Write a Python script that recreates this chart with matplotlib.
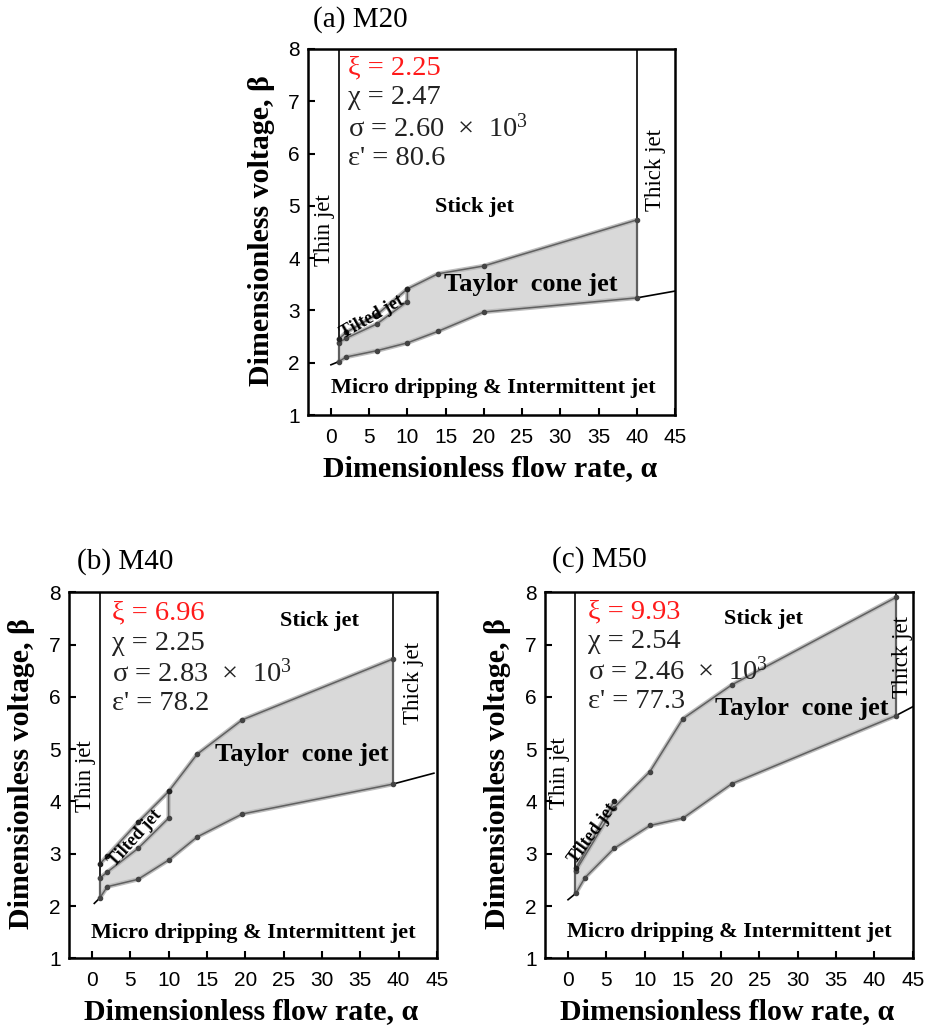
import matplotlib
matplotlib.use("Agg")
import matplotlib.pyplot as plt
import numpy as np

plt.rcParams['font.family'] = ['Liberation Serif', 'DejaVu Serif']
plt.rcParams['mathtext.fontset'] = 'custom'
plt.rcParams['mathtext.rm'] = 'Liberation Serif'
plt.rcParams['mathtext.it'] = 'Liberation Serif:italic'

# ---------------- data ----------------
x_ticks = [0, 5, 10, 15, 20, 25, 30, 35, 40, 45]
y_ticks = [1, 2, 3, 4, 5, 6, 7, 8]

# (a) M20
alpha_lower_a = [1, 2, 6, 10, 14, 20, 40]
beta_lower_a = [2.02, 2.11, 2.23, 2.38, 2.60, 2.97, 3.24]
alpha_upper_a = [1, 2, 6, 10, 10, 14, 20, 40]
beta_upper_a = [2.38, 2.47, 2.74, 3.17, 3.41, 3.70, 3.85, 4.73]
alpha_tilted_a = [1, 2, 6, 10]
beta_tilted_a = [2.45, 2.58, 2.92, 3.41]
alpha_left_ext_a = [0, 1]
beta_left_ext_a = [1.96, 2.02]
alpha_right_ext_a = [40, 45]
beta_right_ext_a = [3.24, 3.37]
thin_a, thick_a = 1, 40

# (b) M40
alpha_lower_b = [1, 2, 6, 10, 13.7, 19.6, 39.2]
beta_lower_b = [2.15, 2.37, 2.51, 2.88, 3.32, 3.76, 4.33]
alpha_upper_b = [1, 2, 6, 10, 10, 13.7, 19.6, 39.2]
beta_upper_b = [2.53, 2.65, 3.10, 3.68, 4.19, 4.90, 5.56, 6.72]
alpha_tilted_b = [1, 2, 6, 10]
beta_tilted_b = [2.80, 2.96, 3.60, 4.19]
alpha_left_ext_b = [0.3, 1]
beta_left_ext_b = [2.05, 2.15]
alpha_right_ext_b = [39.2, 44.6]
beta_right_ext_b = [4.33, 4.54]
thin_b, thick_b = 1, 39.2

# (c) M50
alpha_lower_c = [1, 2.2, 6, 10.7, 15, 21.4, 42.8]
beta_lower_c = [2.24, 2.54, 3.10, 3.54, 3.68, 4.34, 5.64]
alpha_upper_c = [1, 6, 10.7, 15, 21.4, 42.8]
beta_upper_c = [2.67, 3.88, 4.57, 5.58, 6.23, 7.90]
alpha_tilted_c = [1, 6]
beta_tilted_c = [2.72, 4.00]
alpha_left_ext_c = [0, 1]
beta_left_ext_c = [2.12, 2.24]
alpha_right_ext_c = [42.8, 45]
beta_right_ext_c = [5.64, 5.81]
thin_c, thick_c = 0.9, 42.8

titles = ["(a) M20", "(b) M40", "(c) M50"]
xi_vals = ["2.25", "6.96", "9.93"]
chi_vals = ["2.47", "2.25", "2.54"]
sigma_vals = ["2.60", "2.83", "2.46"]
eps_vals = ["80.6", "78.2", "77.3"]

# ---------------- figure ----------------
fig = plt.figure(figsize=(9.26, 10.27), dpi=100)
ax_a = fig.add_axes([0.3326, 0.5959, 0.3963, 0.3564])
ax_b = fig.add_axes([0.0745, 0.0669, 0.3974, 0.3564])
ax_c = fig.add_axes([0.5886, 0.0669, 0.3970, 0.3564])

FILL = '#d9d9d9'
EDGE = '#606060'
HALO = '#bdbdbd'


def draw_panel(ax, al, bl, au, bu, at, bt, ale, ble, are, bre, thin, thick):
    # shaded Taylor cone region
    poly_x = list(al) + list(au)[::-1]
    poly_y = list(bl) + list(bu)[::-1]
    ax.fill(poly_x, poly_y, color=FILL, zorder=1, lw=0)
    # halo + edges
    for xs, ys in [(al, bl), (au, bu), (at, bt)]:
        ax.plot(xs, ys, color=HALO, lw=3.2, zorder=2, solid_capstyle='round')
    ax.plot(al, bl, color=EDGE, lw=1.1, zorder=3)
    ax.plot(au, bu, color=EDGE, lw=1.1, zorder=3)
    ax.plot(at, bt, color=EDGE, lw=1.1, zorder=3)
    ax.plot([thick, thick], [bl[-1], bu[-1]], color=EDGE, lw=1.6, zorder=3)
    ax.plot([thin, thin], [bl[0], bu[0]], color=EDGE, lw=1.6, zorder=3)
    # markers
    ax.plot(al, bl, 'o', color='#444444', ms=3, zorder=4)
    ax.plot(au, bu, 'o', color='#444444', ms=3, zorder=4)
    ax.plot(at, bt, 'o', color='#222222', ms=3, zorder=4)
    # black boundary lines
    ax.plot([thin, thin], [bu[0], 8], color='black', lw=1.2, zorder=3)
    ax.plot([thick, thick], [bu[-1], 8], color='black', lw=1.2, zorder=3)
    ax.plot(ale, ble, color='black', lw=1.2, zorder=3)
    ax.plot(are, bre, color='black', lw=1.2, zorder=3)

    ax.set_xlim(-3, 45)
    ax.set_ylim(1, 8)
    ax.set_xticks(x_ticks)
    ax.set_yticks(y_ticks)
    for lab in ax.get_xticklabels() + ax.get_yticklabels():
        lab.set_fontfamily('Liberation Sans')
        lab.set_fontsize(15)
    ax.tick_params(direction='in', length=5, width=1.5, top=False, right=False)
    ax.tick_params(axis='x', pad=9)
    ax.tick_params(axis='y', pad=6)
    for sp in ax.spines.values():
        sp.set_linewidth(1.8)
    ax.text(-0.128, 0.505, 'Dimensionless voltage, β', transform=ax.transAxes,
            rotation=90, ha='center', va='center', fontsize=21.5, fontweight='bold')
    ax.text(0.496, -0.145, 'Dimensionless flow rate, α', transform=ax.transAxes,
            ha='center', va='center', fontsize=21.5, fontweight='bold')


draw_panel(ax_a, alpha_lower_a, beta_lower_a, alpha_upper_a, beta_upper_a,
           alpha_tilted_a, beta_tilted_a, alpha_left_ext_a, beta_left_ext_a,
           alpha_right_ext_a, beta_right_ext_a, thin_a, thick_a)
draw_panel(ax_b, alpha_lower_b, beta_lower_b, alpha_upper_b, beta_upper_b,
           alpha_tilted_b, beta_tilted_b, alpha_left_ext_b, beta_left_ext_b,
           alpha_right_ext_b, beta_right_ext_b, thin_b, thick_b)
draw_panel(ax_c, alpha_lower_c, beta_lower_c, alpha_upper_c, beta_upper_c,
           alpha_tilted_c, beta_tilted_c, alpha_left_ext_c, beta_left_ext_c,
           alpha_right_ext_c, beta_right_ext_c, thin_c, thick_c)

# text annotations per panel
panel_text = [
    # ax, info_x, info_y0, stick, taylor, micro, thin, thick, tilted(x,y,rot)
    (ax_a, 2.2, 7.64, (18.8, 4.98), (26.2, 3.49), (21.2, 1.51), (-0.9, 4.54), (42.4, 5.69), (5.4, 2.88, 30)),
    (ax_b, 2.6, 7.60, (29.7, 7.46), (27.4, 4.89), (21.1, 1.48), (-0.9, 4.48), (41.9, 6.26), (5.6, 3.30, 48)),
    (ax_c, 2.6, 7.63, (25.5, 7.48), (30.5, 5.78), (21.1, 1.51), (-1.1, 4.54), (43.7, 6.77), (3.2, 3.38, 54)),
]
for i, (ax, ix, iy, st, tc, mi, th, tk, tl) in enumerate(panel_text):
    dy = 0.575
    ax.text(ix, iy, 'ξ = ' + xi_vals[i], color='#ff1a1a', fontsize=20.5, va='center', ha='left', zorder=6)
    ax.text(ix, iy - dy, 'χ = ' + chi_vals[i], color='#222222', fontsize=20.5, va='center', ha='left', zorder=6)
    ax.text(ix, iy - 2 * dy, 'σ = ' + sigma_vals[i] + r'  $\times$  10$^{3}$', color='#222222',
            fontsize=20.5, va='center', ha='left', zorder=6)
    ax.text(ix, iy - 3 * dy, "ε' = " + eps_vals[i], color='#222222', fontsize=20.5, va='center', ha='left', zorder=6)
    ax.text(st[0], st[1], 'Stick jet', fontsize=16, fontweight='bold', ha='center', va='center', zorder=6)
    ax.text(tc[0], tc[1], 'Taylor  cone jet', fontsize=19, fontweight='bold', ha='center', va='center', zorder=6)
    ax.text(mi[0], mi[1], 'Micro dripping & Intermittent jet', fontsize=16, fontweight='bold',
            ha='center', va='center', zorder=6)
    ax.text(th[0], th[1], 'Thin jet', fontsize=16.5, rotation=90, ha='center', va='center', zorder=6)
    ax.text(tk[0], tk[1], 'Thick jet', fontsize=16.5, rotation=90, ha='center', va='center', zorder=6)
    ax.text(tl[0], tl[1], 'Tilted jet', fontsize=13, fontweight='bold', rotation=tl[2],
            ha='center', va='center', zorder=6, rotation_mode='anchor')

fig.text(0.338, 0.9805, titles[0], fontsize=21, ha='left', va='center')
fig.text(0.083, 0.453, titles[1], fontsize=21, ha='left', va='center')
fig.text(0.596, 0.4547, titles[2], fontsize=21, ha='left', va='center')

fig.savefig('out.png', dpi=100)
